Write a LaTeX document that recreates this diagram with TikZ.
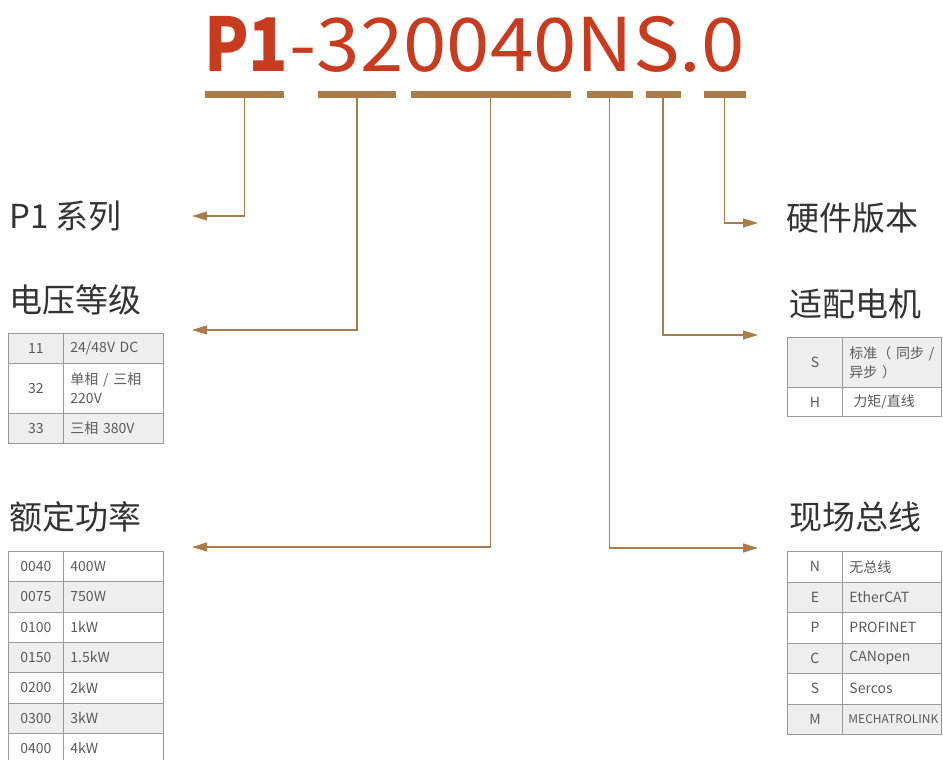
\documentclass[tikz,border=0pt]{standalone}
\usepackage{fontspec}
\setmainfont{Noto Sans CJK SC}
\usetikzlibrary{arrows.meta}
\definecolor{titlered}{HTML}{C83B1F}
\definecolor{barcol}{HTML}{A87C4B}
\definecolor{labcol}{HTML}{333333}
\definecolor{tabtext}{HTML}{5A5A5A}
\definecolor{tabline}{HTML}{9A9A9A}
\definecolor{tabfill}{HTML}{EEEEEE}
\tikzset{
  bar/.style={fill=barcol, minimum height=6.5pt, inner sep=0pt, draw=none},
  conn/.style={draw=barcol, line width=1.3pt, -{Triangle[length=15pt,width=9pt]}},
  lab/.style={anchor=west, inner sep=0pt, text=labcol, font=\fontsize{33}{33}\selectfont},
  codecell/.style={draw=tabline, line width=0.9pt, minimum width=55pt, inner sep=0pt,
    anchor=north west, text=tabtext, font=\fontsize{14}{18}\selectfont},
  desccell/.style={draw=tabline, line width=0.9pt, inner xsep=7pt, inner ysep=0pt,
    anchor=north west, align=left, text=tabtext, font=\fontsize{14}{19}\selectfont},
  ldesc/.style={desccell, text width=86pt},
  rdesc/.style={desccell, text width=85pt}
}
\begin{document}
\begin{tikzpicture}[x=1pt,y=-1pt]
\useasboundingbox (0,0) rectangle (943,760);

% title
\node[anchor=base west, inner sep=0pt, text=titlered, font=\fontsize{74}{74}\selectfont] (title) at (204,72)
  {\scalebox{0.88}[1]{\textbf{P1}}\hspace{1pt}\scalebox{1.055}[1]{-320040NS.0}};

% bars
\node[bar, minimum width=79pt] (b1) at (244.5,94.5) {};
\node[bar, minimum width=78pt] (b2) at (357,94.5) {};
\node[bar, minimum width=160pt] (b3) at (490.5,94.5) {};
\node[bar, minimum width=46pt] (b4) at (609.5,94.5) {};
\node[bar, minimum width=35pt] (b5) at (663,94.5) {};
\node[bar, minimum width=42pt] (b6) at (724.5,94.5) {};

% arrow ends
\coordinate (t1) at (192,216);
\coordinate (t2) at (192,330);
\coordinate (t3) at (192,547);
\coordinate (t4) at (758,548);
\coordinate (t5) at (758,335);
\coordinate (t6) at (758,223);

\draw[conn] (b1.south) |- (t1);
\draw[conn] (b2.south) |- (t2);
\draw[conn] (b3.south) |- (t3);
\draw[conn] (b4.south) |- (t4);
\draw[conn] (b5.south) |- (t5);
\draw[conn] (b6.south) |- (t6);

% labels
\node[lab] (l1) at (9,216) {P1 系列};
\node[lab] (l2) at (9,300) {电压等级};
\node[lab] (l3) at (9,517) {额定功率};
\node[lab] (l4) at (786,218) {硬件版本};
\node[lab] (l5) at (789,304) {适配电机};
\node[lab] (l6) at (789,517) {现场总线};

% voltage table
\node[codecell, fill=tabfill, minimum height=30pt] (vc1) at (8,333) {11};
\node[ldesc, fill=tabfill, minimum height=30pt] (vd1) at (63,333) {24/48V DC};
\node[codecell, fill=white, minimum height=50pt] (vc2) at (8,363) {32};
\node[ldesc, fill=white, minimum height=50pt] (vd2) at (63,363) {单相 / 三相\\220V};
\node[codecell, fill=tabfill, minimum height=30pt] (vc3) at (8,413) {33};
\node[ldesc, fill=tabfill, minimum height=30pt] (vd3) at (63,413) {三相 380V};

% motor table
\node[codecell, fill=tabfill, minimum height=50pt] (mc1) at (787,337) {S};
\node[rdesc, fill=tabfill, minimum height=50pt] (md1) at (842,337) {标准（ 同步 /\\异步 ）};
\node[codecell, fill=white, minimum height=29pt] (mc2) at (787,387) {H};
\node[rdesc, fill=white, minimum height=29pt] (md2) at (842,387) {\hspace{4pt}力矩/直线};

% power table
\foreach \i/\c/\d/\f in {0/0040/400W/white, 1/0075/750W/tabfill, 2/0100/1kW/white,
  3/0150/1.5kW/tabfill, 4/0200/2kW/white, 5/0300/3kW/tabfill, 6/0400/4kW/white} {
  \node[codecell, fill=\f, minimum height=30.3pt] (pc\i) at (8,{551+30.3*\i}) {\c};
  \node[ldesc, fill=\f, minimum height=30.3pt] (pd\i) at (63,{551+30.3*\i}) {\d};
}

% bus table
\foreach \i/\c/\d/\f in {0/N/无总线/white, 1/E/EtherCAT/tabfill, 2/P/PROFINET/white,
  3/C/CANopen/tabfill, 4/S/Sercos/white} {
  \node[codecell, fill=\f, minimum height=30.5pt] (bc\i) at (787,{551+30.5*\i}) {\c};
  \node[rdesc, fill=\f, minimum height=30.5pt] (bd\i) at (842,{551+30.5*\i}) {\d};
}
\node[codecell, fill=tabfill, minimum height=30.5pt] (bc5) at (787,703.5) {M};
\node[rdesc, fill=tabfill, minimum height=30.5pt, inner xsep=6pt, text width=87pt] (bd5) at (842,703.5) {\fontsize{12}{14}\selectfont MECHATROLINK};
\end{tikzpicture}
\end{document}
